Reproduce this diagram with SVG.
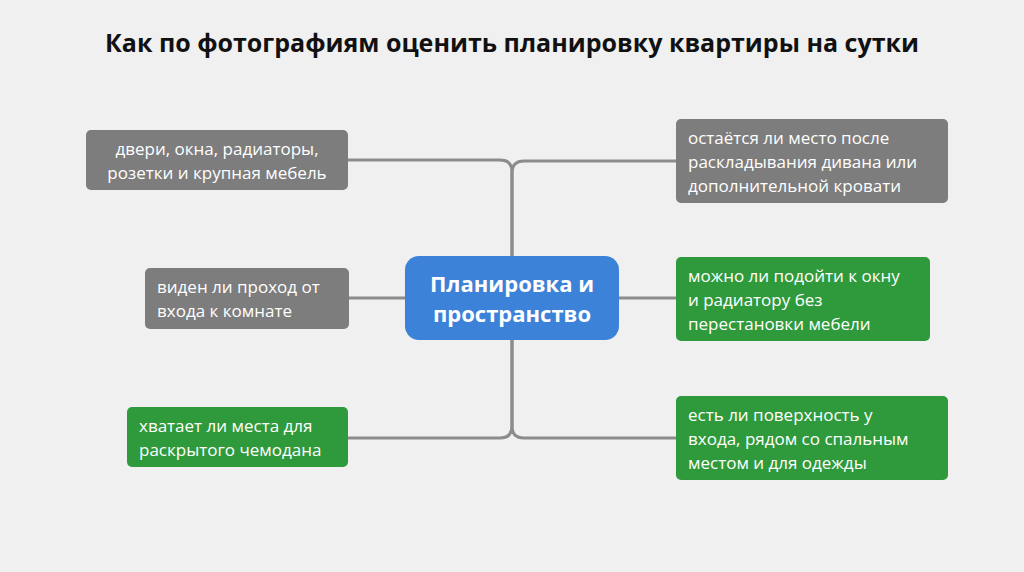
<svg xmlns="http://www.w3.org/2000/svg" width="1024" height="572" viewBox="0 0 1024 572">
<style>
.t{font-family:"Open Sans","Liberation Sans",sans-serif;font-size:17px;fill:#fff}
.g{fill:#7d7d7d}
.gr{fill:#2f9a3c}
.c{fill:none;stroke:#8c8c8c;stroke-width:3}
</style>
<rect width="1024" height="572" fill="#f0f0f0"/>
<text x="512" y="52" text-anchor="middle" font-family="Open Sans, Liberation Sans, sans-serif" font-size="25" font-weight="bold" fill="#111">Как по фотографиям оценить планировку квартиры на сутки</text>
<g id="connectors">
<path class="c" d="M348 160 H500 Q512 160 512 172 V426 Q512 438 500 438 H348"/>
<path class="c" d="M676 161 H524 Q512 161 512 173 V426 Q512 438 524 438 H676"/>
<path class="c" d="M349 298 H676"/>
</g>
<g id="center"><rect x="405" y="256" width="214" height="84" rx="14" fill="#3b82d8"/>
<text x="512" y="292" text-anchor="middle" font-family="Open Sans, Liberation Sans, sans-serif" font-size="22" font-weight="bold" fill="#fff">Планировка и</text>
<text x="512" y="322" text-anchor="middle" font-family="Open Sans, Liberation Sans, sans-serif" font-size="22" font-weight="bold" fill="#fff">пространство</text></g>
<g id="n1"><rect class="g" x="86" y="130" width="262" height="60" rx="5"/>
<text class="t" x="217" y="155" text-anchor="middle">двери, окна, радиаторы,</text><text class="t" x="217" y="179" text-anchor="middle">розетки и крупная мебель</text></g>
<g id="n2"><rect class="g" x="145" y="268" width="204" height="61" rx="5"/>
<text class="t" x="157" y="293">виден ли проход от</text><text class="t" x="157" y="317">входа к комнате</text></g>
<g id="n3"><rect class="gr" x="127" y="407" width="221" height="60" rx="5"/>
<text class="t" x="139" y="432">хватает ли места для</text><text class="t" x="139" y="456">раскрытого чемодана</text></g>
<g id="n4"><rect class="g" x="676" y="119" width="272" height="84" rx="5"/>
<text class="t" x="688" y="144">остаётся ли место после</text><text class="t" x="688" y="168">раскладывания дивана или</text><text class="t" x="688" y="192">дополнительной кровати</text></g>
<g id="n5"><rect class="gr" x="676" y="257" width="254" height="84" rx="5"/>
<text class="t" x="688" y="282">можно ли подойти к окну</text><text class="t" x="688" y="306">и радиатору без</text><text class="t" x="688" y="330">перестановки мебели</text></g>
<g id="n6"><rect class="gr" x="676" y="396" width="272" height="84" rx="5"/>
<text class="t" x="688" y="421">есть ли поверхность у</text><text class="t" x="688" y="445">входа, рядом со спальным</text><text class="t" x="688" y="469">местом и для одежды</text></g>
</svg>
